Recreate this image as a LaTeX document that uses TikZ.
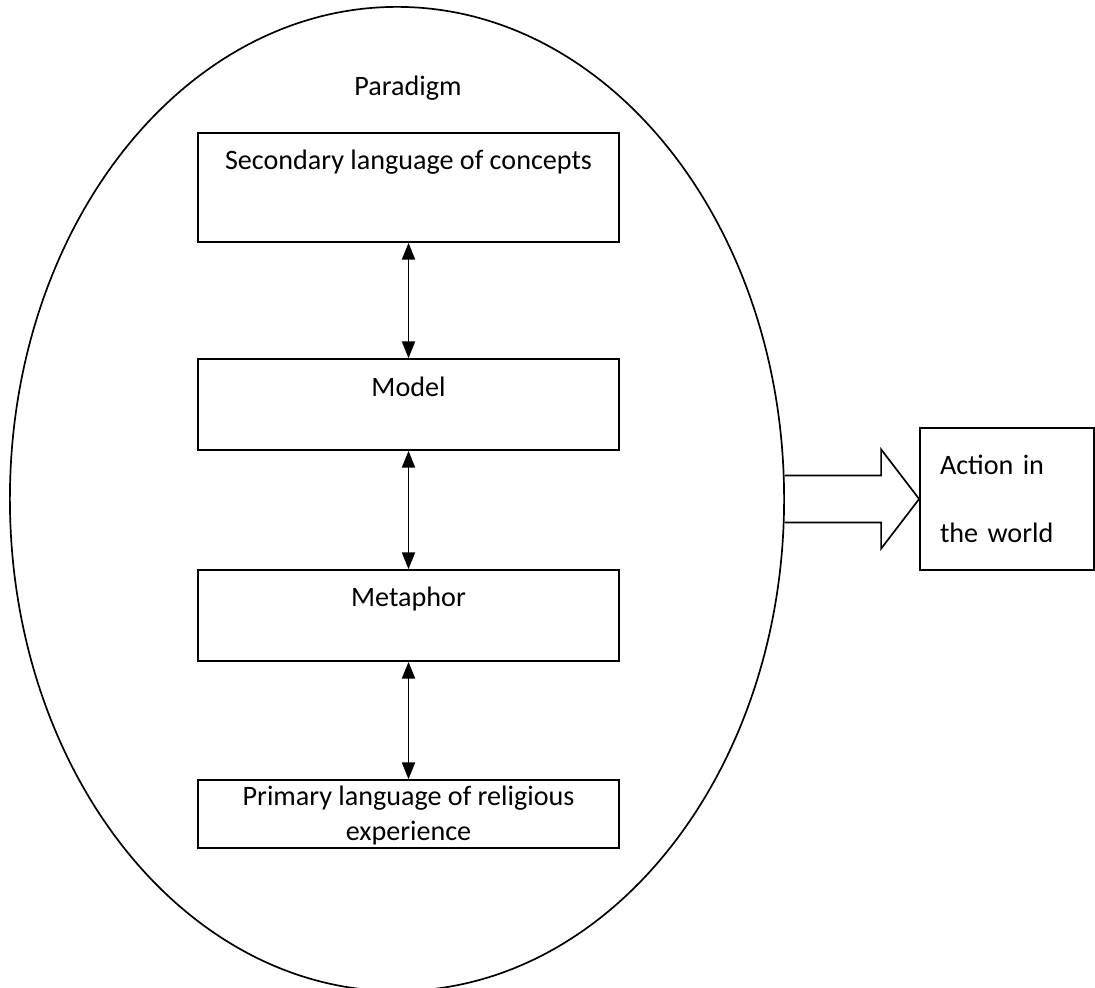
\documentclass[tikz,border=0pt]{standalone}
\usepackage{fontspec}
\setmainfont{Carlito}
\usetikzlibrary{shapes.geometric,arrows.meta,positioning}

\begin{document}
\begin{tikzpicture}[x=0.025cm, y=-0.025cm, line width=1.2pt, font=\fontsize{20}{24.4}\selectfont,
  box/.style={rectangle, draw, minimum width=10.525cm, inner sep=0pt},
  boxtext/.style={anchor=base, inner sep=0pt},
  dblarrow/.style={{Triangle[width=0.33cm, length=0.42cm]}-{Triangle[width=0.33cm, length=0.42cm]}, line width=1pt}]
  \useasboundingbox (0,0) rectangle (1095,987);
  \node[ellipse, draw, minimum width=19.35cm, minimum height=24.6cm, inner sep=0pt] (para) at (397,499) {};
  \node[boxtext] (paratext) at (408,95) {Paradigm};
  \node[box, minimum height=2.725cm] (sec) at (408.5,187.5) {};
  \node[boxtext] (sectext) at ([yshift=-0.925cm]sec.north) {Secondary language of concepts};
  \node[box, minimum height=2.275cm] (model) at (408.5,404.5) {};
  \node[boxtext] (modeltext) at ([yshift=-0.95cm]model.north) {Model};
  \node[box, minimum height=2.275cm] (meta) at (408.5,615.5) {};
  \node[boxtext] (metatext) at ([yshift=-0.925cm]meta.north) {Metaphor};
  \node[box, minimum height=1.7cm] (prim) at (408.5,814) {};
  \node[anchor=north, inner sep=0pt, align=center] (primtext) at ([yshift=-0.16cm]prim.north) {Primary language of religious\\experience};
  \node[rectangle, draw, minimum width=4.35cm, minimum height=3.55cm, text width=3.35cm, inner xsep=0.5cm, align=left, font=\fontsize{20}{48.4}\selectfont] (act) at (1007,499) {Action in\\the world};
  \draw[dblarrow] (sec) -- (model);
  \draw[dblarrow] (model) -- (meta);
  \draw[dblarrow] (meta) -- (prim);
  \draw ([yshift=0.5875cm]para.east) -- ([xshift=-0.95cm, yshift=0.5875cm]act.west) -- ([xshift=-0.95cm, yshift=1.24cm]act.west) -- (act.west) -- ([xshift=-0.95cm, yshift=-1.24cm]act.west) -- ([xshift=-0.95cm, yshift=-0.5875cm]act.west) -- ([yshift=-0.5875cm]para.east);
\end{tikzpicture}
\end{document}
